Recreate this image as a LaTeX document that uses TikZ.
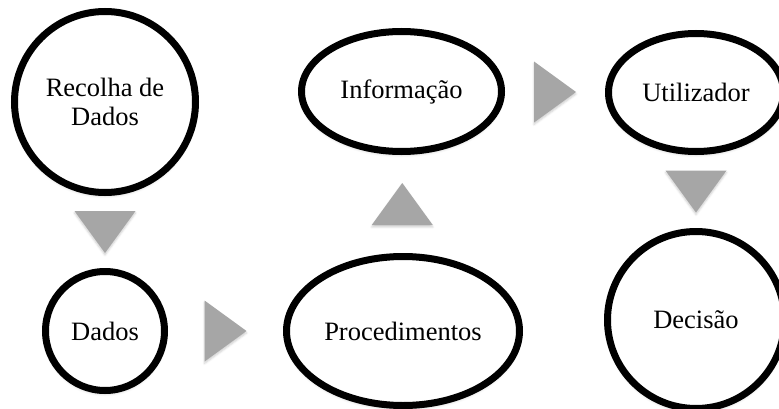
\documentclass[tikz,border=0pt]{standalone}
\usepackage{fontspec}
\setmainfont{Liberation Serif}
\usetikzlibrary{shapes.geometric,calc,shadows.blur}

\begin{document}
\begin{tikzpicture}[x=1pt, y=1pt,
  tri/.pic={\fill[black!35, blur shadow={shadow xshift=0pt, shadow yshift=-2pt, shadow blur radius=2pt, shadow opacity=20}]
    (-21,30.5) -- (21,0) -- (-21,-30.5) -- cycle;}]

\tikzstyle{every node} = [draw=black, line width=7pt, fill=white, inner sep=0pt, align=center,
  font=\fontsize{26.5}{29}\selectfont,
  blur shadow={shadow xshift=0pt, shadow yshift=-3pt, shadow blur radius=3pt, shadow opacity=25}]
\tikzstyle{bubble} = [circle]
\tikzstyle{oval} = [ellipse]

\clip (0,0) rectangle (779,408);

\node[bubble, minimum size=181] (rec) at (105,306) {Recolha de\\Dados};
\node[bubble, minimum size=119] (dad) at (105,77) {Dados};
\node[oval, minimum width=233, minimum height=149] (proc) at (403,77) {Procedimentos};

\node[oval, minimum width=200, minimum height=120] (inf) at (401.5,316.5) {Informação};
\node[oval, minimum width=175, minimum height=118] (uti) at (696,315.5) {Utilizador};
\node[bubble, minimum size=177] (dec) at (696,88) {Decisão};


\pic[rotate=-90] at ($(rec.south)!.5!(dad.north)$) {tri};
\pic at ($(dad.east)!.5!(proc.west)$) {tri};
\pic[rotate=90] at ($(proc.north)!.5!(inf.south)$) {tri};
\pic at ($(inf.east)!.5!(uti.west)$) {tri};
\pic[rotate=-90] at ($(uti.south)!.5!(dec.north)$) {tri};
\end{tikzpicture}
\end{document}
